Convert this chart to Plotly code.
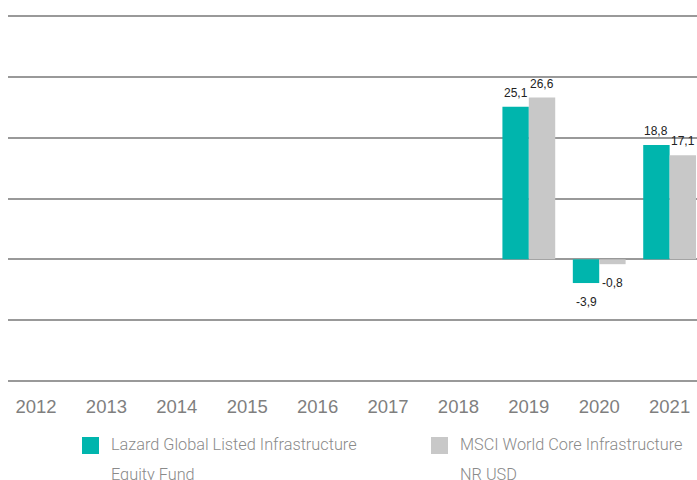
import plotly.graph_objects as go

years = ["2012", "2013", "2014", "2015", "2016", "2017", "2018", "2019", "2020", "2021"]
lazard = [None, None, None, None, None, None, None, 25.1, -3.9, 18.8]
msci = [None, None, None, None, None, None, None, 26.6, -0.8, 17.1]
series_names = ["Lazard Global Listed Infrastructure Equity Fund", "MSCI World Core Infrastructure NR USD"]
legend_lines = [["Lazard Global Listed Infrastructure", "Equity Fund"],
                ["MSCI World Core Infrastructure", "NR USD"]]
colors = ["#00b5ad", "#c8c8c8"]

W, H = 697, 480
ML, MR, MT, MB = 8, 0, 13, 96
PW, PH = W - ML - MR, H - MT - MB
YR = [-20.5, 40.5]
XR = [-0.398, -0.398 + PW / 70.4]
px_per_cat = PW / (XR[1] - XR[0])
bargap = 0.25
half = px_per_cat * (1 - bargap) / 4


def fmt(v):
    return f"{v:.1f}".replace(".", ",")


fig = go.Figure()
for name, vals, c in zip(series_names, [lazard, msci], colors):
    fig.add_trace(go.Bar(x=years, y=vals, name=name, marker=dict(color=c, line=dict(width=0))))

annotations = []
for k, vals in enumerate([lazard, msci]):
    for i, v in enumerate(vals):
        if v is None:
            continue
        annotations.append(dict(
            x=i, y=v, xref="x", yref="y", text=fmt(v), showarrow=False,
            xshift=(-half if k == 0 else half),
            yanchor="bottom" if v >= 0 else "top",
            yshift=5 if v >= 0 else -10,
            font=dict(family="Liberation Sans, Arial", size=12, color="#222222"),
        ))


def px_x(p):
    return (p - ML) / PW


def px_y(p):
    return (MT + PH - p) / PH


shapes = []
sq_x = [82, 431]
for i, (lines, c) in enumerate(zip(legend_lines, colors)):
    x0 = sq_x[i]
    shapes.append(dict(type="rect", xref="paper", yref="paper",
                       x0=px_x(x0), x1=px_x(x0 + 17), y0=px_y(454), y1=px_y(437),
                       fillcolor=c, line=dict(width=0)))
    for j, ln in enumerate(lines):
        annotations.append(dict(
            x=px_x(x0 + 27), y=px_y(444.5 + 30.4 * j), xref="paper", yref="paper",
            xanchor="left", yanchor="middle", text=ln, showarrow=False,
            font=dict(family="Roboto", size=16.3, color="#8a8a8a", weight=300),
        ))

fig.update_layout(
    width=W, height=H,
    margin=dict(l=ML, r=MR, t=MT, b=MB, pad=0),
    paper_bgcolor="white", plot_bgcolor="white",
    barmode="group", bargap=bargap, bargroupgap=0,
    showlegend=False,
    annotations=annotations, shapes=shapes,
    xaxis=dict(type="category", range=XR, showgrid=False, showline=False, zeroline=False,
               ticks="", ticklabelstandoff=9,
               tickfont=dict(family="Liberation Sans, Arial", size=18.5, color="#7f7f7f")),
    yaxis=dict(range=YR, dtick=10, tick0=0, showticklabels=False, showgrid=True,
               gridcolor="#999999", gridwidth=2, zeroline=True, zerolinecolor="#999999",
               zerolinewidth=2, showline=False, ticks=""),
)

fig.write_html("out.html", config={"displayModeBar": False},
               post_script="document.body.style.margin='0';document.body.style.overflow='hidden';")
